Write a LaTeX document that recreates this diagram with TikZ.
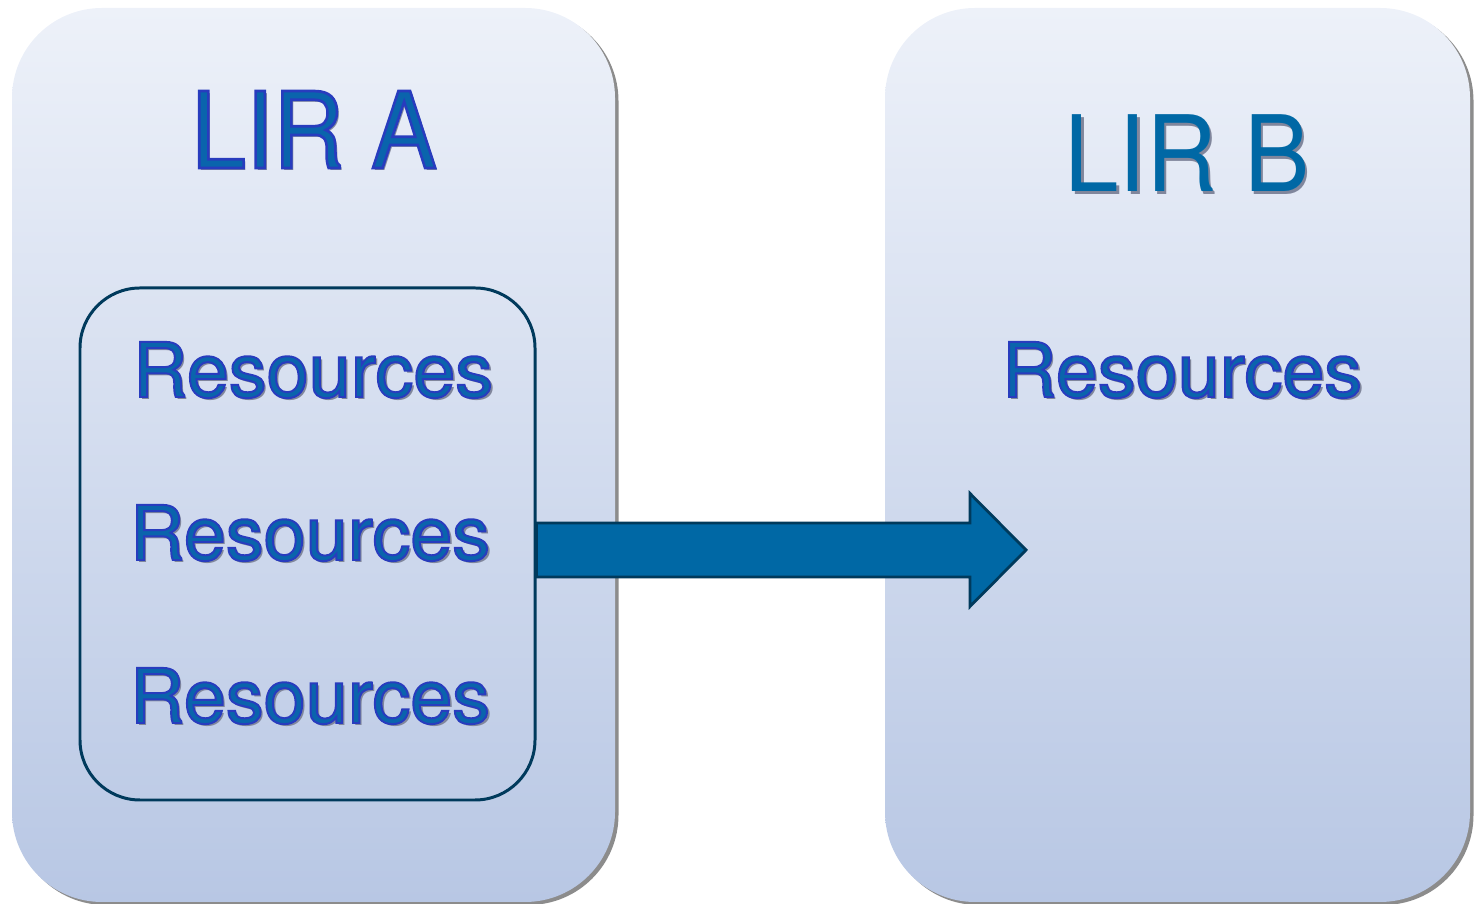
\documentclass[tikz,border=0pt]{standalone}
\usepackage{fontspec}
\setmainfont{TeX Gyre Heros}
\newfontfamily\outlinefont[FakeBold=2.6]{TeX Gyre Heros}
\usetikzlibrary{shadows,calc}

\definecolor{boxtop}{RGB}{237,241,249}
\definecolor{boxbottom}{RGB}{184,199,228}
\definecolor{navy}{RGB}{0,58,92}
\definecolor{arrowblue}{RGB}{0,104,165}
\definecolor{textblue}{RGB}{10,100,172}
\definecolor{shadowgray}{RGB}{128,134,156}

% text with outline and drop shadow
\newcommand{\outlined}[1]{\makebox[0pt][l]{\hspace{1.6pt}\raisebox{-1.6pt}{\textcolor{shadowgray}{#1}}}{\outlinefont\color{textblue}\special{pdf:code 0.157 0.235 0.745 RG}#1}}
% text with drop shadow only
\newcommand{\shadowed}[1]{\makebox[0pt][l]{\hspace{1.6pt}\raisebox{-1.6pt}{\textcolor{shadowgray}{#1}}}\textcolor{arrowblue}{#1}}

\begin{document}
\begin{tikzpicture}[
    lirbox/.style={rectangle, rounded corners=1.8cm, minimum height=17.88cm, top color=boxtop, bottom color=boxbottom,
        drop shadow={shadow xshift=0.07cm, shadow yshift=-0.06cm, fill=black!60, opacity=0.75}},
    groupbox/.style={rectangle, draw=navy, line width=1.7pt, rounded corners=1.2cm, minimum width=9.10cm, minimum height=10.24cm},
    title/.style={anchor=base, inner sep=0pt, font=\fontsize{60}{60}\selectfont, xscale=0.93, transform shape},
    res/.style={anchor=base, inner sep=0pt, font=\fontsize{43}{43}\selectfont},
    bigarrow/.style={draw=navy, line width=1.6pt, fill=arrowblue, line join=miter}
]
\useasboundingbox (0,0) rectangle (29.48,18.08);

% the two registries
\node[lirbox, minimum width=12.06cm] (lira) at (6.27,8.98) {};
\node[lirbox, minimum width=11.70cm] (lirb) at (23.55,8.98) {};

\node[title] (namea) at (6.28,14.72) {\outlined{LIR A}};
\node[title] (nameb) at (23.74,14.24) {\shadowed{LIR B}};

% resources of LIR A
\node[groupbox] (grp) at (6.15,7.20) {};
\node[res] (resa1) at (6.26,10.14) {\outlined{Resources}};
\node[res] (resa2) at (6.20,6.88) {\outlined{Resources}};
\node[res] (resa3) at (6.20,3.62) {\outlined{Resources}};

% resources of LIR B
\node[res] (resb) at (23.64,10.14) {\outlined{Resources}};

% transfer arrow
\coordinate (tip) at (20.52,7.08);
\draw[bigarrow] ($(grp.east |- tip)+(0,0.54)$) -- ($(tip)+(-1.12,0.54)$) -- ($(tip)+(-1.12,1.13)$) -- (tip)
    -- ($(tip)+(-1.12,-1.13)$) -- ($(tip)+(-1.12,-0.54)$) -- ($(grp.east |- tip)+(0,-0.54)$) -- cycle;

\end{tikzpicture}
\end{document}
